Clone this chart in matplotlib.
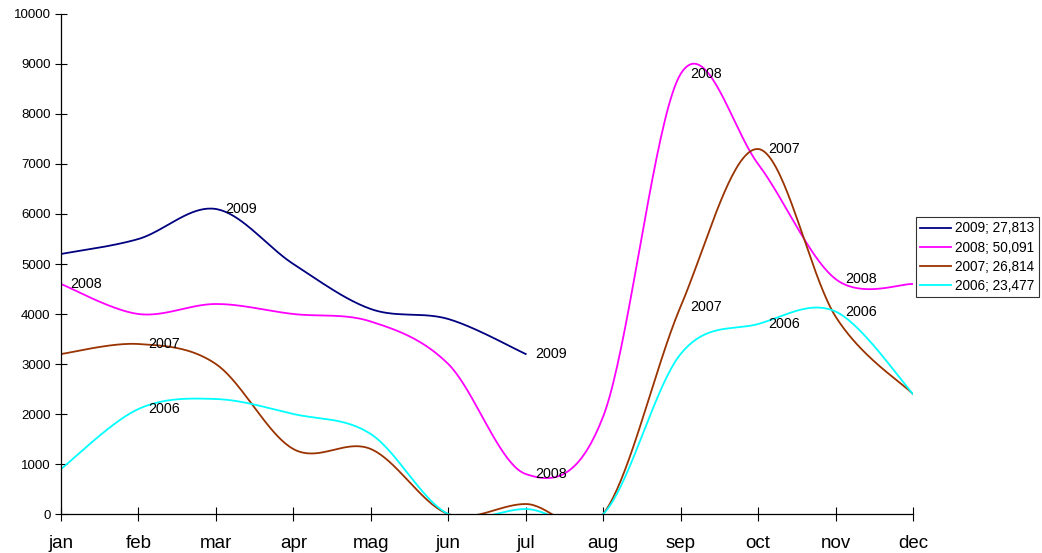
import numpy as np
import matplotlib
matplotlib.use('Agg')
import matplotlib.pyplot as plt

plt.rcParams['font.family'] = ['Liberation Sans', 'DejaVu Sans']

months = ['jan', 'feb', 'mar', 'apr', 'mag', 'jun', 'jul', 'aug', 'sep', 'oct', 'nov', 'dec']

y2009 = [5200, 5500, 6100, 5000, 4100, 3900, 3200]
y2008 = [4600, 4000, 4200, 4000, 3850, 3000, 800, 1950, 8800, 7000, 4700, 4600]
y2007 = [3200, 3400, 3000, 1300, 1300, 0, 200, 0, 4150, 7300, 3950, 2400]
y2006 = [900, 2100, 2300, 2000, 1600, 0, 100, 0, 3200, 3800, 4050, 2400]

legend_labels = ['2009; 27,813', '2008; 50,091', '2007; 26,814', '2006; 23,477']

# which points carry a year label (month index)
label_points = {
    '2009': [2, 6],
    '2008': [0, 6, 8, 10],
    '2007': [1, 8, 9],
    '2006': [1, 9, 10],
}


def smooth(ys, n=40):
    # cubic bezier through every point, tangents from neighbours
    pts = np.array(ys, dtype=float)
    xs = np.arange(len(pts), dtype=float)
    P = np.column_stack([xs, pts])
    out = []
    for i in range(len(P) - 1):
        p0 = P[i - 1] if i > 0 else P[i]
        p1 = P[i]
        p2 = P[i + 1]
        p3 = P[i + 2] if i + 2 < len(P) else P[i + 1]
        c1 = p1 + (p2 - p0) / 6.0
        c2 = p2 - (p3 - p1) / 6.0
        t = np.linspace(0, 1, n)[:, None]
        seg = ((1 - t) ** 3) * p1 + 3 * ((1 - t) ** 2) * t * c1 + 3 * (1 - t) * t ** 2 * c2 + t ** 3 * p2
        out.append(seg if i == 0 else seg[1:])
    out = np.vstack(out)
    return out[:, 0], out[:, 1]


fig = plt.figure(figsize=(10.42, 5.53), dpi=100)
ax = fig.add_axes([0.0585, 0.0705, 0.8177, 0.9042])

series = [('2009', y2009, '#000080'), ('2008', y2008, '#FF00FF'),
          ('2007', y2007, '#993300'), ('2006', y2006, '#00FFFF')]

handles = []
for name, ys, col in series:
    sx, sy = smooth(ys)
    h, = ax.plot(sx, sy, color=col, lw=1.3, clip_on=True)
    handles.append(h)
    for i in label_points[name]:
        ax.annotate(name, (i, ys[i]), xytext=(7, 0), textcoords='offset points',
                    fontsize=10.3, va='center', ha='left')

ax.set_xlim(0, len(months) - 1)
ax.set_ylim(0, 10000)
ax.set_xticks(range(len(months)))
ax.set_xticklabels(months, fontsize=13.5)
ax.set_yticks(range(0, 10001, 1000))
ax.tick_params(axis='y', labelsize=9.5, direction='inout', length=8, width=0.8)
ax.tick_params(axis='x', direction='inout', length=10, width=0.8, pad=10)
ax.spines['top'].set_visible(False)
ax.spines['right'].set_visible(False)
for s in ('left', 'bottom'):
    ax.spines[s].set_linewidth(0.9)

leg = fig.legend(handles, legend_labels, loc='upper left', bbox_to_anchor=(0.879, 0.607),
                 fontsize=9.8, frameon=True, fancybox=False, edgecolor='black',
                 handlelength=2.3, handletextpad=0.3, borderpad=0.3, labelspacing=0.38,
                 borderaxespad=0)
leg.get_frame().set_linewidth(0.8)

fig.savefig('out.png', dpi=100)
